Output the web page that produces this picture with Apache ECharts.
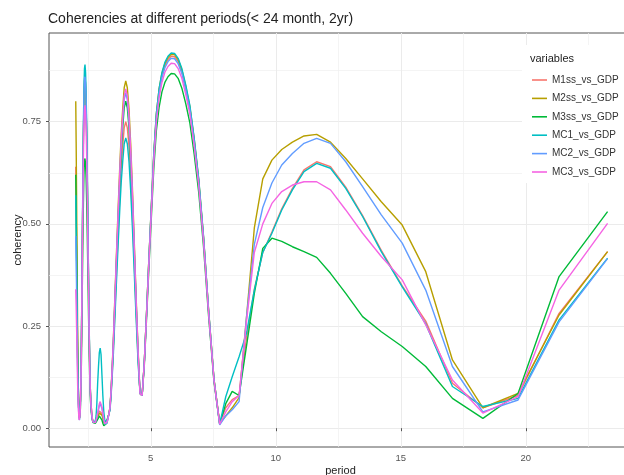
<!DOCTYPE html>
<html>
<head>
<meta charset="utf-8">
<script src="https://cdn.jsdelivr.net/npm/echarts@6/dist/echarts.min.js"></script>
<style>
html,body{margin:0;padding:0;background:#fff;}
#chart{width:624px;height:475px;}
</style>
</head>
<body>
<div id="chart"></div>
<script>
// period (months) of each spectral estimate
const periods = [
  2.000, 2.016, 2.032, 2.048, 2.065, 2.081, 2.098, 2.116, 2.133, 2.151,
  2.169, 2.188, 2.207, 2.226, 2.246, 2.265, 2.286, 2.306, 2.327, 2.349,
  2.370, 2.393, 2.415, 2.438, 2.462, 2.485, 2.510, 2.535, 2.560, 2.586,
  2.612, 2.639, 2.667, 2.695, 2.723, 2.753, 2.783, 2.813, 2.844, 2.876,
  2.909, 2.943, 2.977, 3.012, 3.048, 3.084, 3.122, 3.160, 3.200, 3.241,
  3.282, 3.325, 3.368, 3.413, 3.459, 3.507, 3.556, 3.606, 3.657, 3.710,
  3.765, 3.821, 3.879, 3.938, 4.000, 4.063, 4.129, 4.197, 4.267, 4.339,
  4.414, 4.491, 4.571, 4.655, 4.741, 4.830, 4.923, 5.020, 5.120, 5.224,
  5.333, 5.447, 5.565, 5.689, 5.818, 5.953, 6.095, 6.244, 6.400, 6.564,
  6.737, 6.919, 7.111, 7.314, 7.529, 7.758, 8.000, 8.258, 8.533, 8.828,
  9.143, 9.481, 9.846, 10.240, 10.667, 11.130, 11.636, 12.190, 12.800, 13.474,
  14.222, 15.059, 16.000, 17.067, 18.286, 19.692, 21.333, 23.273
];

const seriesNames = ["M1ss_vs_GDP", "M2ss_vs_GDP", "M3ss_vs_GDP", "MC1_vs_GDP", "MC2_vs_GDP", "MC3_vs_GDP"];

const m1ssVsGdp = [
  0.64, 0.55, 0.45, 0.34, 0.24, 0.15, 0.09, 0.05, 0.03, 0.03,
  0.04, 0.07, 0.12, 0.21, 0.32, 0.46, 0.59, 0.71, 0.79, 0.84,
  0.85, 0.83, 0.78, 0.71, 0.60, 0.49, 0.36, 0.25, 0.15, 0.09,
  0.06, 0.035, 0.022, 0.015, 0.012, 0.012, 0.014, 0.018, 0.025, 0.032,
  0.035, 0.042, 0.045, 0.043, 0.036, 0.027, 0.017, 0.010, 0.010, 0.015,
  0.022, 0.035, 0.045, 0.083, 0.135, 0.195, 0.270, 0.345, 0.420, 0.495,
  0.570, 0.638, 0.690, 0.735, 0.750, 0.735, 0.690, 0.615, 0.518, 0.405,
  0.285, 0.173, 0.085, 0.080, 0.160, 0.280, 0.410, 0.535, 0.664, 0.763,
  0.823, 0.862, 0.887, 0.902, 0.910, 0.909, 0.897, 0.872, 0.832, 0.783,
  0.704, 0.605, 0.466, 0.287, 0.119, 0.012, 0.050, 0.070, 0.080, 0.220,
  0.340, 0.430, 0.480, 0.537, 0.587, 0.632, 0.652, 0.640, 0.590, 0.520,
  0.435, 0.348, 0.262, 0.110, 0.050, 0.080, 0.281, 0.432
];

const m2ssVsGdp = [
  0.80, 0.70, 0.58, 0.45, 0.32, 0.20, 0.11, 0.06, 0.03, 0.025,
  0.04, 0.07, 0.13, 0.21, 0.33, 0.46, 0.60, 0.71, 0.80, 0.85,
  0.86, 0.84, 0.79, 0.71, 0.61, 0.49, 0.37, 0.25, 0.15, 0.09,
  0.06, 0.035, 0.022, 0.015, 0.012, 0.012, 0.014, 0.018, 0.022, 0.027,
  0.030, 0.037, 0.040, 0.038, 0.032, 0.024, 0.015, 0.010, 0.012, 0.018,
  0.025, 0.035, 0.051, 0.094, 0.153, 0.221, 0.306, 0.391, 0.476, 0.561,
  0.646, 0.723, 0.782, 0.833, 0.850, 0.833, 0.782, 0.697, 0.587, 0.459,
  0.323, 0.196, 0.085, 0.080, 0.160, 0.280, 0.410, 0.540, 0.670, 0.770,
  0.830, 0.868, 0.892, 0.907, 0.915, 0.914, 0.902, 0.877, 0.837, 0.787,
  0.708, 0.608, 0.468, 0.289, 0.120, 0.012, 0.030, 0.050, 0.075, 0.270,
  0.490, 0.610, 0.656, 0.682, 0.700, 0.715, 0.719, 0.700, 0.660, 0.610,
  0.554, 0.497, 0.383, 0.167, 0.050, 0.085, 0.277, 0.432
];

const m3ssVsGdp = [
  0.62, 0.54, 0.44, 0.34, 0.24, 0.15, 0.09, 0.05, 0.03, 0.025,
  0.03, 0.05, 0.10, 0.16, 0.25, 0.36, 0.46, 0.55, 0.62, 0.655,
  0.66, 0.645, 0.61, 0.55, 0.47, 0.38, 0.28, 0.19, 0.12, 0.07,
  0.045, 0.030, 0.020, 0.014, 0.010, 0.010, 0.012, 0.015, 0.018, 0.022,
  0.025, 0.030, 0.030, 0.026, 0.020, 0.012, 0.006, 0.003, 0.005, 0.012,
  0.025, 0.035, 0.050, 0.088, 0.144, 0.208, 0.288, 0.368, 0.448, 0.528,
  0.608, 0.680, 0.736, 0.784, 0.800, 0.784, 0.736, 0.656, 0.552, 0.432,
  0.304, 0.184, 0.085, 0.080, 0.151, 0.265, 0.388, 0.511, 0.633, 0.728,
  0.785, 0.823, 0.846, 0.860, 0.868, 0.867, 0.856, 0.832, 0.794, 0.747,
  0.671, 0.577, 0.444, 0.274, 0.113, 0.010, 0.060, 0.090, 0.080, 0.200,
  0.330, 0.440, 0.465, 0.457, 0.444, 0.432, 0.418, 0.379, 0.330, 0.273,
  0.236, 0.200, 0.151, 0.073, 0.024, 0.085, 0.371, 0.530
];

const mc1VsGdp = [
  0.57, 0.49, 0.40, 0.30, 0.21, 0.13, 0.08, 0.05, 0.03, 0.03,
  0.04, 0.07, 0.13, 0.22, 0.34, 0.48, 0.62, 0.74, 0.83, 0.88,
  0.89, 0.87, 0.82, 0.74, 0.63, 0.51, 0.38, 0.26, 0.16, 0.09,
  0.05, 0.03, 0.02, 0.015, 0.012, 0.012, 0.018, 0.03, 0.06, 0.11,
  0.15, 0.185, 0.196, 0.18, 0.13, 0.08, 0.04, 0.02, 0.015, 0.02,
  0.025, 0.035, 0.043, 0.078, 0.128, 0.185, 0.256, 0.327, 0.398, 0.469,
  0.540, 0.604, 0.653, 0.696, 0.710, 0.696, 0.653, 0.582, 0.490, 0.383,
  0.270, 0.163, 0.085, 0.080, 0.160, 0.280, 0.410, 0.540, 0.670, 0.770,
  0.830, 0.870, 0.895, 0.910, 0.918, 0.917, 0.905, 0.880, 0.840, 0.790,
  0.710, 0.610, 0.470, 0.290, 0.120, 0.010, 0.077, 0.126, 0.175, 0.232,
  0.338, 0.430, 0.477, 0.534, 0.583, 0.628, 0.648, 0.636, 0.587, 0.518,
  0.432, 0.346, 0.255, 0.102, 0.053, 0.073, 0.265, 0.416
];

const mc2VsGdp = [
  0.47, 0.41, 0.34, 0.26, 0.19, 0.12, 0.07, 0.04, 0.025, 0.02,
  0.035, 0.06, 0.12, 0.21, 0.33, 0.46, 0.60, 0.72, 0.81, 0.855,
  0.86, 0.845, 0.80, 0.72, 0.61, 0.50, 0.37, 0.25, 0.155, 0.09,
  0.06, 0.035, 0.022, 0.015, 0.012, 0.012, 0.014, 0.018, 0.025, 0.035,
  0.045, 0.055, 0.060, 0.057, 0.048, 0.035, 0.020, 0.010, 0.008, 0.012,
  0.020, 0.033, 0.049, 0.090, 0.148, 0.213, 0.295, 0.377, 0.459, 0.541,
  0.623, 0.697, 0.754, 0.804, 0.820, 0.804, 0.754, 0.672, 0.566, 0.443,
  0.312, 0.189, 0.085, 0.080, 0.158, 0.276, 0.404, 0.532, 0.661, 0.759,
  0.818, 0.858, 0.882, 0.897, 0.905, 0.904, 0.892, 0.868, 0.828, 0.779,
  0.700, 0.601, 0.463, 0.286, 0.118, 0.008, 0.030, 0.045, 0.065, 0.270,
  0.450, 0.540, 0.600, 0.644, 0.672, 0.697, 0.709, 0.697, 0.652, 0.591,
  0.522, 0.453, 0.338, 0.151, 0.040, 0.069, 0.260, 0.415
];

const mc3VsGdp = [
  0.34, 0.30, 0.25, 0.20, 0.14, 0.09, 0.06, 0.035, 0.02, 0.02,
  0.03, 0.06, 0.11, 0.19, 0.30, 0.43, 0.55, 0.66, 0.74, 0.78,
  0.79, 0.77, 0.73, 0.66, 0.56, 0.45, 0.34, 0.23, 0.14, 0.08,
  0.055, 0.035, 0.022, 0.015, 0.012, 0.012, 0.014, 0.018, 0.027, 0.038,
  0.048, 0.060, 0.065, 0.062, 0.052, 0.037, 0.022, 0.012, 0.010, 0.015,
  0.022, 0.035, 0.050, 0.091, 0.149, 0.216, 0.299, 0.382, 0.465, 0.548,
  0.631, 0.706, 0.764, 0.813, 0.830, 0.813, 0.764, 0.681, 0.573, 0.448,
  0.315, 0.191, 0.085, 0.080, 0.156, 0.272, 0.399, 0.525, 0.652, 0.749,
  0.808, 0.846, 0.871, 0.885, 0.893, 0.892, 0.880, 0.856, 0.817, 0.769,
  0.691, 0.594, 0.457, 0.282, 0.117, 0.010, 0.040, 0.065, 0.080, 0.260,
  0.430, 0.500, 0.550, 0.579, 0.595, 0.603, 0.603, 0.583, 0.534, 0.477,
  0.420, 0.363, 0.253, 0.118, 0.037, 0.077, 0.338, 0.501
];

const xMajorTicks = [5, 10, 15, 20];
const xMinorTicks = [2.5, 7.5, 12.5, 17.5, 22.5];
const yMajorTicks = [0, 0.25, 0.5, 0.75];
const yMinorTicks = [0.125, 0.375, 0.625, 0.875];

const seriesValues = [m1ssVsGdp, m2ssVsGdp, m3ssVsGdp, mc1VsGdp, mc2VsGdp, mc3VsGdp];
const colors = ["#F8766D", "#B79F00", "#00BA38", "#00BFC4", "#619CFF", "#F564E3"];

const X_MIN = 0.93, X_MAX = 24.25, Y_MIN = -0.046, Y_MAX = 0.967;
const FONT = 'Liberation Sans, Arial, sans-serif';

const chart = echarts.init(document.getElementById('chart'), null, {renderer: 'canvas'});

const series = seriesNames.map((name, i) => ({
  name: name,
  type: 'line',
  xAxisIndex: 0,
  yAxisIndex: 0,
  symbol: 'none',
  showSymbol: false,
  smooth: false,
  z: 2 + i,
  lineStyle: {color: colors[i], width: 1.4},
  itemStyle: {color: colors[i]},
  data: periods.map((p, j) => [p, seriesValues[i][j]])
}));

const option = {
  animation: false,
  backgroundColor: '#ffffff',
  title: [{
    text: 'Coherencies at different periods(< 24 month, 2yr)',
    left: 48,
    top: 12,
    padding: 0,
    textStyle: {fontFamily: FONT, fontSize: 14, fontWeight: 'normal', color: '#222'}
  }],
  grid: {
    left: 49, right: -8, top: 33, bottom: 28,
    show: true, borderColor: '#555', borderWidth: 1,
    backgroundColor: 'transparent',
    containLabel: false,
    outerBoundsMode: 'none'
  },
  xAxis: [{
    type: 'value', min: X_MIN, max: X_MAX, position: 'bottom',
    name: 'period', nameLocation: 'middle', nameGap: 18, nameMoveOverlap: false,
    nameTextStyle: {fontFamily: FONT, fontSize: 11, color: '#222'},
    axisLine: {show: false},
    axisTick: {show: true, customValues: xMajorTicks, length: 3, lineStyle: {color: '#555', width: 1}},
    axisLabel: {customValues: xMajorTicks, margin: 6, fontSize: 9.5, color: '#555', fontFamily: FONT},
    splitLine: {show: true, lineStyle: {color: '#ebebeb', width: 1}}
  }, {
    type: 'value', min: X_MIN, max: X_MAX, position: 'top',
    axisLine: {show: false},
    axisTick: {show: false, customValues: xMinorTicks},
    axisLabel: {show: false, customValues: xMinorTicks},
    splitLine: {show: true, lineStyle: {color: '#efefef', width: 0.7}}
  }],
  yAxis: [{
    type: 'value', min: Y_MIN, max: Y_MAX, position: 'left',
    name: 'coherency', nameLocation: 'middle', nameGap: 26, nameRotate: 90, nameMoveOverlap: false,
    nameTextStyle: {fontFamily: FONT, fontSize: 11, color: '#222'},
    axisLine: {show: false},
    axisTick: {show: true, customValues: yMajorTicks, length: 3, lineStyle: {color: '#555', width: 1}},
    axisLabel: {customValues: yMajorTicks, margin: 8, fontSize: 9.5, color: '#555', fontFamily: FONT,
      formatter: v => Number(v).toFixed(2)},
    splitLine: {show: true, lineStyle: {color: '#ebebeb', width: 1}}
  }, {
    type: 'value', min: Y_MIN, max: Y_MAX, position: 'right',
    axisLine: {show: false},
    axisTick: {show: false, customValues: yMinorTicks},
    axisLabel: {show: false, customValues: yMinorTicks},
    splitLine: {show: true, lineStyle: {color: '#efefef', width: 0.7}}
  }],
  legend: {
    data: seriesNames,
    orient: 'vertical',
    left: 532, top: 73,
    icon: 'path://M0,0L15,0L15,1.6L0,1.6Z',
    itemWidth: 15, itemHeight: 14, itemGap: 4.4,
    padding: 0,
    z: 20,
    textStyle: {fontFamily: FONT, fontSize: 10, color: '#333', lineHeight: 14}
  },
  graphic: [{
    type: 'rect', z: 15, silent: true,
    shape: {x: 522, y: 45, width: 110, height: 138},
    style: {fill: '#ffffff'}
  }, {
    type: 'text', z: 16, silent: true,
    x: 530, y: 53,
    style: {text: 'variables', fontFamily: FONT, fontSize: 11, fill: '#222'}
  }],
  series: series
};

chart.setOption(option);
</script>
</body>
</html>
